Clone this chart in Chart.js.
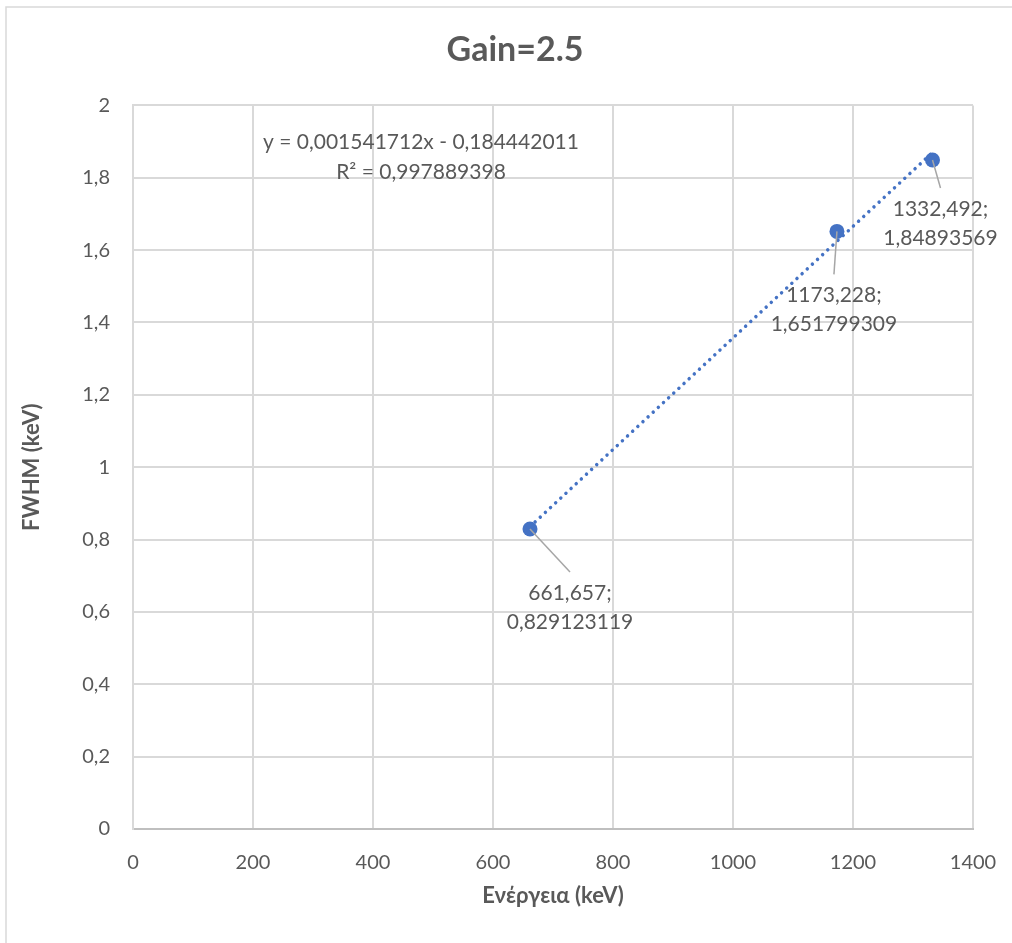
<!DOCTYPE html>
<html>
<head>
<meta charset="utf-8">
<script src="https://cdn.jsdelivr.net/npm/chart.js@4.4.1/dist/chart.umd.min.js"></script>
<style>
  html, body { margin: 0; padding: 0; background: #ffffff; }
  canvas { display: block; }
</style>
</head>
<body>
<canvas id="chart" width="1012" height="943"></canvas>
<script>
// Measured peaks: energy vs. FWHM
const energies = [661.657, 1173.228, 1332.492];
const fwhm = [0.829123119, 1.651799309, 1.84893569];

// Linear fit reported for the series
const fitSlope = 0.001541712;
const fitIntercept = -0.184442011;
const fitR2 = 0.997889398;

// Texts and axis ranges
const chartTitle = 'Gain=2.5';
const xTitle = 'Ενέργεια (keV)';
const yTitle = 'FWHM (keV)';
const xRange = [0, 1400];
const xStep = 200;
const yRange = [0, 2];
const yStep = 0.2;

const FONT = "Lato, 'Open Sans', 'Noto Sans', sans-serif";
const TEXT = '#595959';
const BLUE = '#4472C4';

// Decimal comma formatting
const fmt = v => String(v).replace('.', ',');

const points = energies.map((e, i) => ({ x: e, y: fwhm[i] }));
const xMin = Math.min(...energies);
const xMax = Math.max(...energies);
const fitPoints = [xMin, xMax].map(x => ({ x: x, y: fitSlope * x + fitIntercept }));

const equationLines = [
  'y = ' + fmt(fitSlope) + 'x - ' + fmt(Math.abs(fitIntercept)),
  'R² = ' + fmt(fitR2)
];

// Leader-line end offsets for each data label (pixels from the marker)
const labelOffsets = [
  { dx: 40, dy: 43 },
  { dx: -3, dy: 43 },
  { dx: 8, dy: 28 }
];

const frame = {
  id: 'frame',
  beforeDraw(chart) {
    const ctx = chart.ctx;
    ctx.save();
    ctx.fillStyle = '#ffffff';
    ctx.fillRect(0, 0, chart.width, chart.height);
    ctx.strokeStyle = '#d9d9d9';
    ctx.lineWidth = 1.5;
    ctx.beginPath();
    ctx.moveTo(6, chart.height + 5);
    ctx.lineTo(6, 7);
    ctx.lineTo(chart.width + 5, 7);
    ctx.stroke();
    ctx.restore();
  }
};

const annotations = {
  id: 'annotations',
  afterDatasetsDraw(chart) {
    const ctx = chart.ctx;
    const xs = chart.scales.x, ys = chart.scales.y;
    const area = chart.chartArea;
    ctx.save();
    ctx.font = '21px ' + FONT;
    ctx.fillStyle = TEXT;
    ctx.textAlign = 'center';
    ctx.textBaseline = 'middle';

    // Trendline equation
    const ex = area.left + 288;
    const ey = area.top + 37;
    ctx.fillText(equationLines[0], ex, ey);
    ctx.fillText(equationLines[1], ex, ey + 30);

    // Data labels with leader lines
    points.forEach((p, i) => {
      const px = xs.getPixelForValue(p.x);
      const py = ys.getPixelForValue(p.y);
      const o = labelOffsets[i];
      const lx = px + o.dx, ly = py + o.dy;
      ctx.strokeStyle = '#a6a6a6';
      ctx.lineWidth = 1.5;
      ctx.beginPath();
      ctx.moveTo(px, py);
      ctx.lineTo(lx, ly);
      ctx.stroke();
      ctx.fillText(fmt(p.x) + ';', lx, ly + 21);
      ctx.fillText(fmt(p.y), lx, ly + 50);
    });
    ctx.restore();
  }
};

new Chart(document.getElementById('chart'), {
  type: 'scatter',
  data: {
    datasets: [
      {
        label: 'FWHM',
        data: points,
        order: 0,
        backgroundColor: BLUE,
        borderColor: BLUE,
        pointRadius: 7.5,
        pointHoverRadius: 7.5,
        pointBorderWidth: 0
      },
      {
        label: 'Linear fit',
        data: fitPoints,
        order: 1,
        showLine: true,
        pointRadius: 0,
        borderColor: BLUE,
        borderWidth: 3.5,
        borderCapStyle: 'round',
        borderDash: [0.01, 7],
        fill: false
      }
    ]
  },
  options: {
    responsive: false,
    devicePixelRatio: 1,
    animation: false,
    events: [],
    layout: { padding: { left: 18, right: 0, top: 0, bottom: 0 } },
    plugins: {
      legend: { display: false },
      tooltip: { enabled: false },
      title: {
        display: true,
        text: chartTitle,
        color: TEXT,
        font: { family: FONT, size: 34, weight: 'bold', lineHeight: 1.2 },
        padding: { top: 30, bottom: 34.6 }
      }
    },
    scales: {
      x: {
        type: 'linear',
        min: xRange[0],
        max: xRange[1],
        afterFit(scale) {
          scale.height = 114;
          scale.paddingRight = 39;
        },
        ticks: {
          stepSize: xStep,
          padding: 22,
          color: TEXT,
          font: { family: FONT, size: 20 },
          maxRotation: 0,
          callback: v => String(v)
        },
        grid: { color: '#d9d9d9', lineWidth: 2, drawTicks: false },
        border: { color: '#bfbfbf', width: 2 },
        title: {
          display: true,
          text: xTitle,
          color: TEXT,
          font: { family: FONT, size: 22, weight: 'bold', lineHeight: 1.2 },
          padding: { top: 0, bottom: 34 }
        }
      },
      y: {
        type: 'linear',
        min: yRange[0],
        max: yRange[1],
        afterFit(scale) { scale.width = 115; },
        ticks: {
          stepSize: yStep,
          padding: 23,
          color: TEXT,
          font: { family: FONT, size: 20 },
          callback: v => fmt(Math.round(v * 10) / 10)
        },
        grid: { color: '#d9d9d9', lineWidth: 2, drawTicks: false },
        border: { color: '#d9d9d9', width: 2 },
        title: {
          display: true,
          text: yTitle,
          color: TEXT,
          font: { family: FONT, size: 22, weight: 'bold', lineHeight: 1.2 },
          padding: { top: 1, bottom: 0 }
        }
      }
    }
  },
  plugins: [frame, annotations]
});
</script>
</body>
</html>
